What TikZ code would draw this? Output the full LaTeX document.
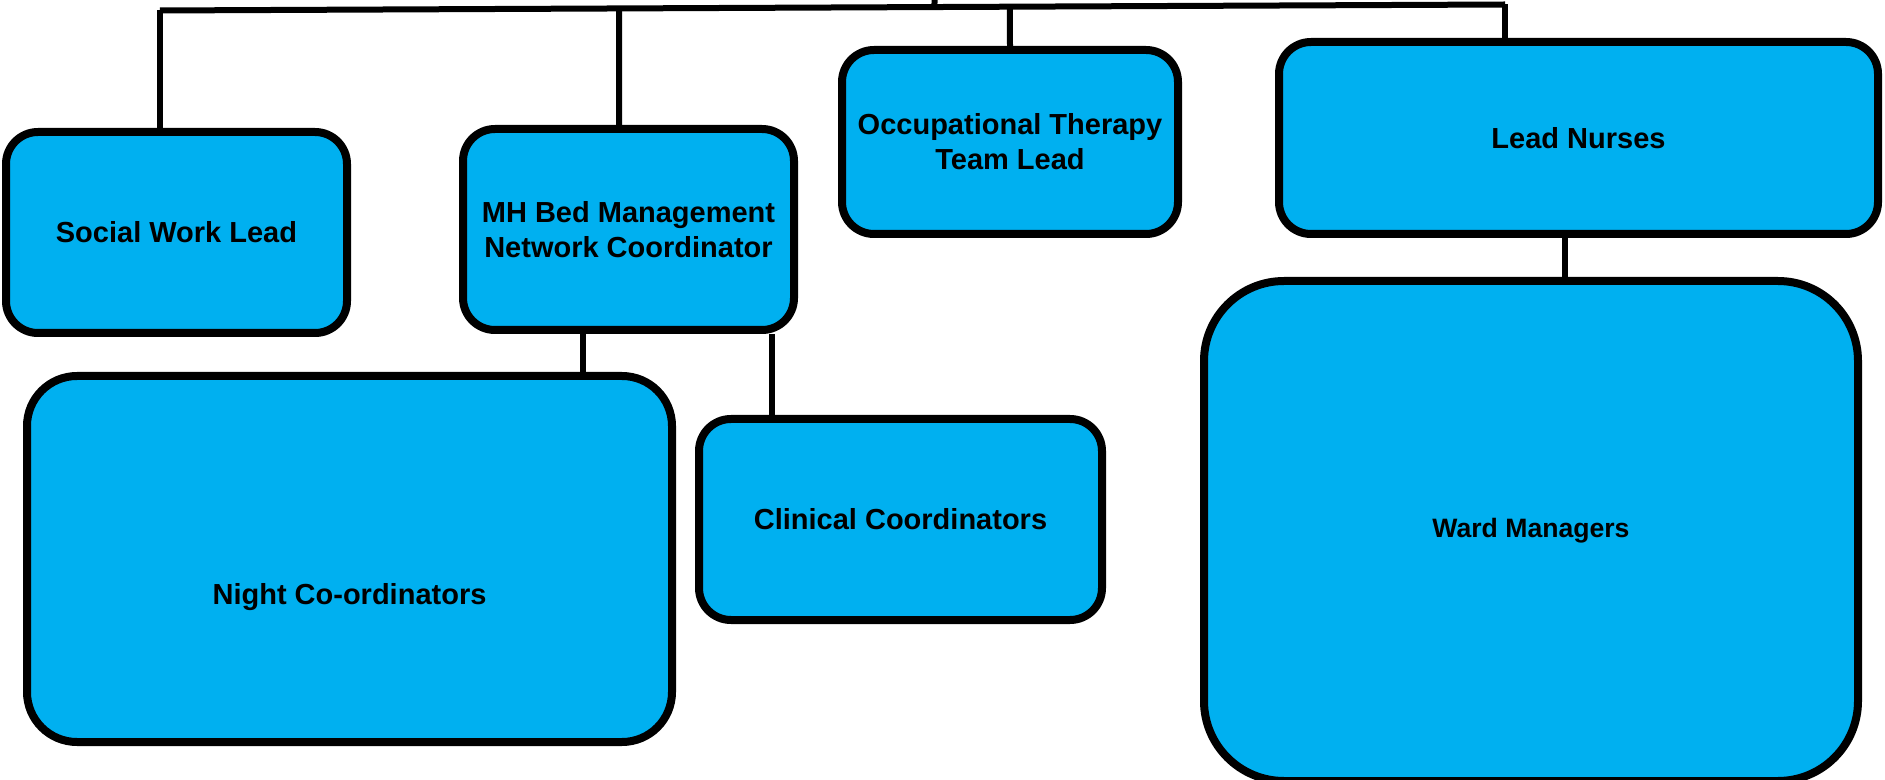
\documentclass[tikz,border=0pt]{standalone}
\usepackage{fontspec}
\setmainfont{Liberation Sans}
\usetikzlibrary{positioning, calc}

\definecolor{roleblue}{RGB}{0,176,240}

\begin{document}
\begin{tikzpicture}[
					x=0.5pt, y=-0.5pt,
					role/.style={draw, line width=4pt, fill=roleblue, rounded corners=16pt, inner sep=0pt, align=center, font=\bfseries\fontsize{14.5}{17.5}\selectfont},
					link/.style={line width=3pt}
					]
					\useasboundingbox (0,0) rectangle (1885,780);
					\node[role, minimum width=170.5pt, minimum height=100.5pt] (SWL) at (176.5,232.5) {Social Work Lead};
					\node[role, minimum width=165.5pt, minimum height=100.5pt] (MH) at (628.5,229.5) {MH Bed Management\\Network Coordinator};
					\node[role, minimum width=168pt, minimum height=92pt] (OT) at (1010,142) {Occupational Therapy\\Team Lead};
					\node[role, minimum width=299.5pt, minimum height=96pt] (LN) at (1578.5,138) {Lead Nurses};
					\node[role, minimum width=322.5pt, minimum height=183pt, rounded corners=25pt] (NC) at (349.5,559) {};
					\node[font=\bfseries\fontsize{14.5}{17.5}\selectfont] (NCtext) at (349.5,597) {Night Co-ordinators};
					\node[role, minimum width=201.5pt, minimum height=100.5pt] (CC) at (900.5,519.5) {Clinical Coordinators};
					\node[role, minimum width=327pt, minimum height=250pt, rounded corners=40pt, font=\bfseries\fontsize{13.3}{16}\selectfont] (WM) at (1531,531) {Ward Managers};
					% connectors
					\coordinate (busL) at (160,10.5);
					\coordinate (busR) at (1505,4.5);
					\coordinate (head) at (934.5,0);
					\coordinate (mhUp) at (619,0);
					\coordinate (mhL) at (583,0);
					\coordinate (mhR) at (772,0);
					\coordinate (lnDown) at (1565,0);
					\draw[link] (busL) -- (busR);
					\draw[link] (head) -- ($(busL)!(head)!(busR)$);
					\draw[link] (busL) -- (busL |- SWL.north);
					\draw[link] ($(busL)!(mhUp)!(busR)$) -- (mhUp |- MH.north);
					\draw[link] ($(busL)!(OT.north)!(busR)$) -- (OT.north);
					\draw[link] (busR) -- (busR |- LN.north);
					\draw[link] (mhL |- MH.south) -- (mhL |- NC.north);
					\draw[link] (mhR |- MH.south) -- (mhR |- CC.north);
					\draw[link] (lnDown |- LN.south) -- (lnDown |- WM.north);
				\end{tikzpicture}
\end{document}
